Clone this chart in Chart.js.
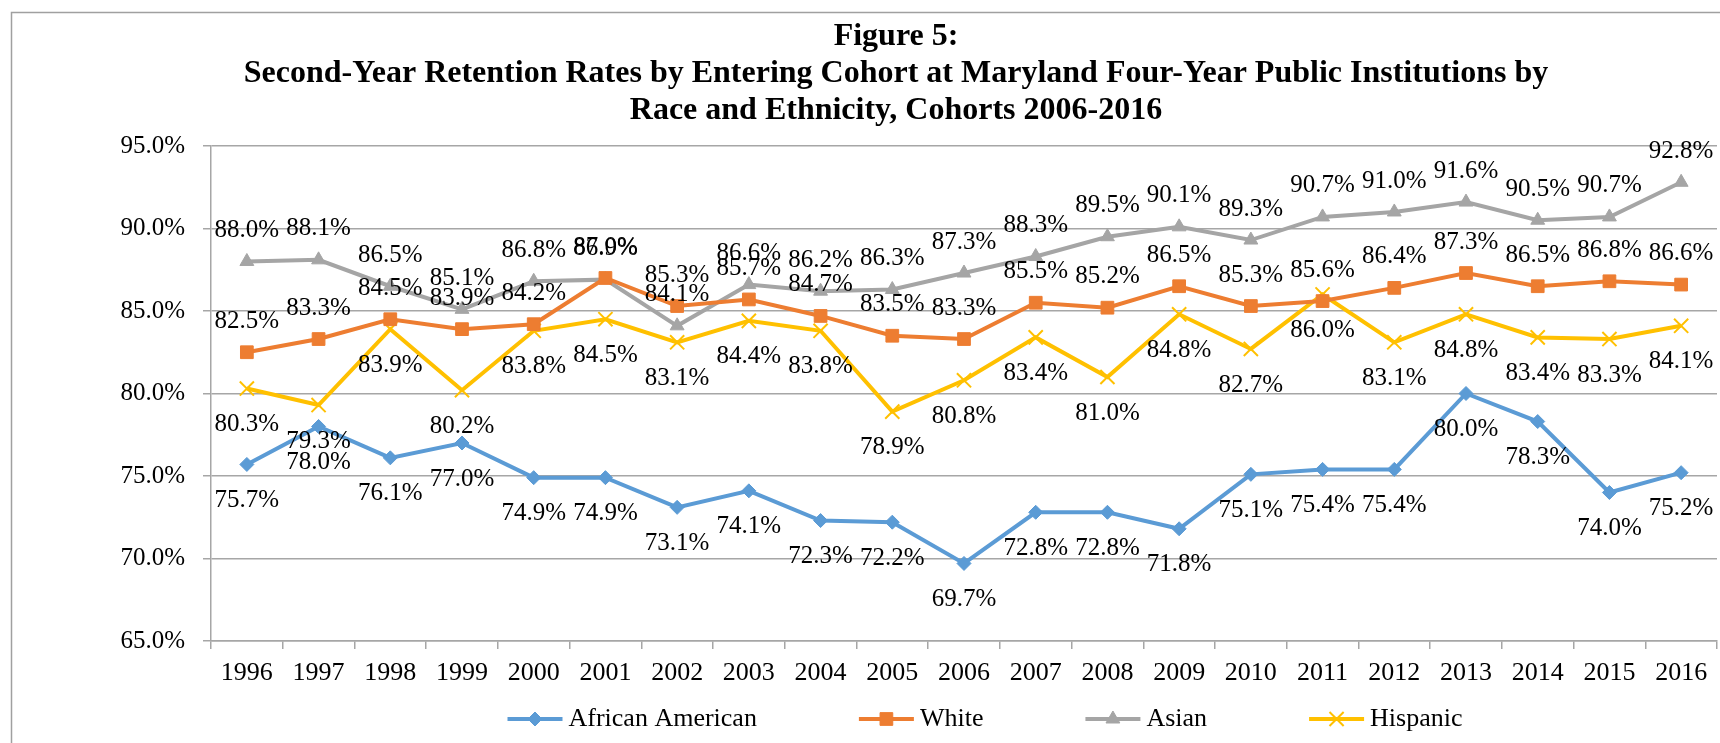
<!DOCTYPE html>
<html>
<head>
<meta charset="utf-8">
<script src="https://cdn.jsdelivr.net/npm/chart.js@4.4.1/dist/chart.umd.min.js"></script>
<style>
html, body { margin: 0; padding: 0; overflow: hidden; background: #fff; }
#wrap { width: 1720px; height: 743px; overflow: hidden; position: relative; }
canvas { display: block; }
</style>
</head>
<body>
<div id="wrap"><canvas id="chart" width="1794" height="743"></canvas></div>
<script>
const cohorts = ['1996', '1997', '1998', '1999', '2000', '2001', '2002', '2003', '2004', '2005', '2006',
	'2007', '2008', '2009', '2010', '2011', '2012', '2013', '2014', '2015', '2016'];
const africanAmerican = [75.7, 78.0, 76.1, 77.0, 74.9, 74.9, 73.1, 74.1, 72.3, 72.2, 69.7,
	72.8, 72.8, 71.8, 75.1, 75.4, 75.4, 80.0, 78.3, 74.0, 75.2];
const white = [82.5, 83.3, 84.5, 83.9, 84.2, 87.0, 85.3, 85.7, 84.7, 83.5, 83.3,
	85.5, 85.2, 86.5, 85.3, 85.6, 86.4, 87.3, 86.5, 86.8, 86.6];
const asian = [88.0, 88.1, 86.5, 85.1, 86.8, 86.9, 84.1, 86.6, 86.2, 86.3, 87.3,
	88.3, 89.5, 90.1, 89.3, 90.7, 91.0, 91.6, 90.5, 90.7, 92.8];
const hispanic = [80.3, 79.3, 83.9, 80.2, 83.8, 84.5, 83.1, 84.4, 83.8, 78.9, 80.8,
	83.4, 81.0, 84.8, 82.7, 86.0, 83.1, 84.8, 83.4, 83.3, 84.1];
const yMin = 65;
const yMax = 95;
const yStep = 5;
const titleLines = [
	'Figure 5:',
	'Second-Year Retention Rates by Entering Cohort at Maryland Four-Year Public Institutions by',
	'Race and Ethnicity, Cohorts 2006-2016'
];

const serif = '"Liberation Serif", "Times New Roman", serif';
const gridGray = '#a6a6a6';

const series = (label, data, color, pointStyle, radius, labelSide) => ({
	label,
	data,
	labelSide,
	borderColor: color,
	backgroundColor: color,
	borderWidth: 4,
	tension: 0,
	pointStyle,
	pointRadius: radius,
	pointHoverRadius: radius,
	pointBackgroundColor: color,
	pointBorderColor: color,
	pointBorderWidth: pointStyle === 'crossRot' ? 2 : 1
});

// value labels (no datalabels plugin offline, so draw them here)
const valueLabels = {
	id: 'valueLabels',
	afterDatasetsDraw(chart) {
		const ctx = chart.ctx;
		ctx.save();
		ctx.font = `25px ${serif}`;
		ctx.fillStyle = '#000';
		ctx.textAlign = 'center';
		ctx.textBaseline = 'middle';
		chart.data.datasets.forEach((ds, i) => {
			const meta = chart.getDatasetMeta(i);
			const dy = ds.labelSide === 'above' ? -31 : 36;
			meta.data.forEach((pt, j) => {
				ctx.fillText(ds.data[j].toFixed(1) + '%', pt.x, pt.y + dy);
			});
		});
		ctx.restore();
	}
};

const frame = {
	id: 'frame',
	beforeDraw(chart) {
		const ctx = chart.ctx;
		ctx.save();
		ctx.fillStyle = '#fff';
		ctx.fillRect(0, 0, chart.width, chart.height);
		ctx.strokeStyle = '#a0a0a0';
		ctx.lineWidth = 1.5;
		ctx.strokeRect(11.5, 12.5, chart.width + 50, chart.height + 50);
		ctx.restore();
	}
};

// excel style legend: short line with the marker on it
const lineLegend = {
	id: 'lineLegend',
	afterDraw(chart) {
		const ctx = chart.ctx;
		const lineLen = 55, textGap = 6, itemGap = 102, centerX = 985, y = 719;
		ctx.save();
		ctx.font = `26px ${serif}`;
		const items = chart.data.datasets.map(ds => ({ds, w: lineLen + textGap + ctx.measureText(ds.label).width}));
		const total = items.reduce((s, it) => s + it.w, 0) + itemGap * (items.length - 1);
		let x = centerX - total / 2;
		items.forEach(({ds, w}) => {
			ctx.strokeStyle = ds.borderColor;
			ctx.lineWidth = ds.borderWidth;
			ctx.beginPath();
			ctx.moveTo(x, y);
			ctx.lineTo(x + lineLen, y);
			ctx.stroke();
			ctx.fillStyle = ds.pointBackgroundColor;
			ctx.strokeStyle = ds.pointBorderColor;
			ctx.lineWidth = ds.pointBorderWidth;
			Chart.helpers.drawPoint(ctx, {pointStyle: ds.pointStyle, radius: ds.pointRadius, rotation: 0, borderWidth: ds.pointBorderWidth}, x + lineLen / 2, y);
			ctx.fillStyle = '#000';
			ctx.textAlign = 'left';
			ctx.textBaseline = 'middle';
			ctx.fillText(ds.label, x + lineLen + textGap, y);
			x += w + itemGap;
		});
		ctx.restore();
	}
};

new Chart(document.getElementById('chart'), {
	type: 'line',
	data: {
		labels: cohorts,
		datasets: [
			series('African American', africanAmerican, '#5b9bd5', 'rectRot', 7, 'below'),
			series('White', white, '#ed7d31', 'rect', 9, 'above'),
			series('Asian', asian, '#a5a5a5', 'triangle', 8, 'above'),
			series('Hispanic', hispanic, '#ffc000', 'crossRot', 10, 'below')
		]
	},
	plugins: [frame, valueLabels, lineLegend],
	options: {
		responsive: false,
		animation: false,
		layout: {padding: {left: 75, right: 77, top: 0, bottom: 52}},
		plugins: {
			legend: {display: false},
			tooltip: {enabled: false},
			title: {
				display: true,
				text: titleLines,
				color: '#000',
				font: {family: serif, size: 32, weight: 'bold', lineHeight: 1.155},
				padding: {top: 18.5, bottom: 16.6}
			}
		},
		scales: {
			x: {
				offset: true,
				afterFit: s => { s.height = 50; },
				grid: {display: true, drawOnChartArea: false, drawTicks: true, tickLength: 8, offset: true, color: gridGray, lineWidth: 1.5},
				border: {display: true, color: gridGray, width: 1.5},
				ticks: {color: '#000', font: {family: serif, size: 26}, padding: 9, maxRotation: 0, autoSkip: false}
			},
			y: {
				min: yMin,
				max: yMax,
				afterFit: s => { s.width = 136; },
				grid: {color: gridGray, lineWidth: 1.5, tickLength: 8},
				border: {display: true, color: gridGray, width: 1.5},
				ticks: {stepSize: yStep, color: '#000', font: {family: serif, size: 25}, padding: 18,
					callback: v => v.toFixed(1) + '%'}
			}
		}
	}
});
</script>
</body>
</html>
